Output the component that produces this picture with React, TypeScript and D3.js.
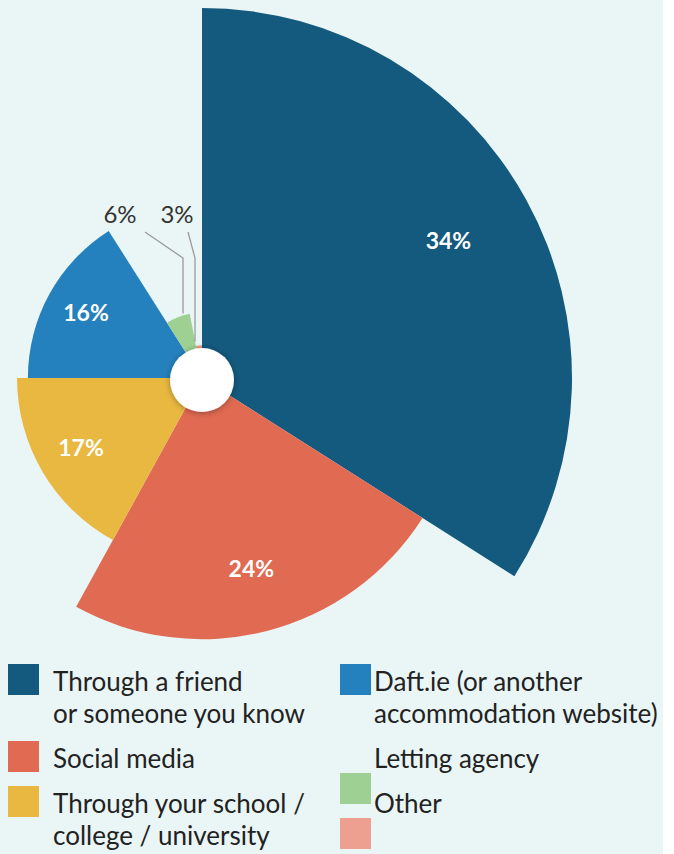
import * as d3 from "d3";

const categories = [
  "Through a friend or someone you know",
  "Social media",
  "Through your school / college / university",
  "Daft.ie (or another accommodation website)",
  "Letting agency",
  "Other",
];
const values = [34, 24, 17, 16, 6, 3];
const colors = ["#135a7e", "#e06a52", "#e9b840", "#2581bd", "#9ed093", "#eda08f"];
const legendLines = [
  ["Through a friend", "or someone you know"],
  ["Social media"],
  ["Through your school /", "college / university"],
  ["Daft.ie (or another", "accommodation website)"],
  ["Letting agency"],
  ["Other"],
];

const W = 674;
const H = 854;
const cx = 202;
const cy = 378;
const font = "Lato, 'Open Sans', sans-serif";

export default function App() {
  const rScale = d3.scaleLinear().domain([0, d3.max(values) as number]).range([0, 370]);
  const pie = d3.pie<number>().sort(null).value((d) => d).startAngle(0).endAngle(2 * Math.PI);
  const arcs = pie(values);
  const arc = d3.arc<d3.PieArcDatum<number>>().innerRadius(0).outerRadius((d) => rScale(d.data));

  // small slices get outside labels with elbow leaders
  const outside: Record<number, { lx: number; ly: number; sx: number; ex: number }> = {
    4: { lx: 120, ly: 215, sx: 145, ex: 183 },
    5: { lx: 177, ly: 215, sx: 188, ex: 195 },
  };

  const rowBase = [691, 768, 813];
  const lineGap = 32;

  return (
    <svg width={W} height={H} style={{ position: "absolute", left: 0, top: 0 }} fontFamily={font}>
      <defs>
        <filter id="sh" x="-50%" y="-50%" width="200%" height="200%">
          <feDropShadow dx="0" dy="1" stdDeviation="3" floodColor="#000" floodOpacity="0.35" />
        </filter>
      </defs>
      <rect x={0} y={0} width={663} height={H} fill="#eaf6f6" />
      <g transform={`translate(${cx},${cy})`}>
        {arcs.map((a, i) => (
          <path key={i} d={arc(a) || ""} fill={colors[i]} />
        ))}
        {arcs.map((a, i) => {
          if (outside[i]) return null;
          const mid = (a.startAngle + a.endAngle) / 2;
          const r = rScale(a.data) * 0.76;
          return (
            <text
              key={"l" + i}
              x={Math.sin(mid) * r}
              y={-Math.cos(mid) * r}
              dy="0.3em"
              textAnchor="middle"
              fill="#fff"
              fontWeight={700}
              fontSize={23}
            >
              {a.data}%
            </text>
          );
        })}
        <circle cy={2} r={32} fill="#fff" filter="url(#sh)" />
      </g>
      {arcs.map((a, i) => {
        const o = outside[i];
        if (!o) return null;
        const mid = (a.startAngle + a.endAngle) / 2;
        const r = rScale(a.data) + 4;
        const py = cy - Math.cos(mid) * r;
        const elbowY = 258;
        return (
          <g key={"o" + i}>
            <polyline
              points={`${o.sx},232 ${o.ex},${elbowY} ${o.ex},${Math.max(py, elbowY)}`}
              fill="none"
              stroke="#9a9a9a"
              strokeWidth={1.3}
            />
            <text x={o.lx} y={o.ly} dy="0.35em" textAnchor="middle" fill="#333" fontSize={24}>
              {a.data}%
            </text>
          </g>
        );
      })}
      {categories.map((c, i) => {
        const col = i < 3 ? 0 : 1;
        const row = i % 3;
        const sx = col === 0 ? 8 : 340;
        const tx = col === 0 ? 53 : 374;
        const base = rowBase[row];
        const swY = col === 1 && row > 0 ? base + 5 : base - 27;
        return (
          <g key={c}>
            <rect x={sx} y={swY} width={31} height={31} fill={colors[i]} />
            {legendLines[i].map((ln, j) => (
              <text key={j} x={tx} y={base + j * lineGap} fill="#222" fontSize={26}>
                {ln}
              </text>
            ))}
          </g>
        );
      })}
    </svg>
  );
}
